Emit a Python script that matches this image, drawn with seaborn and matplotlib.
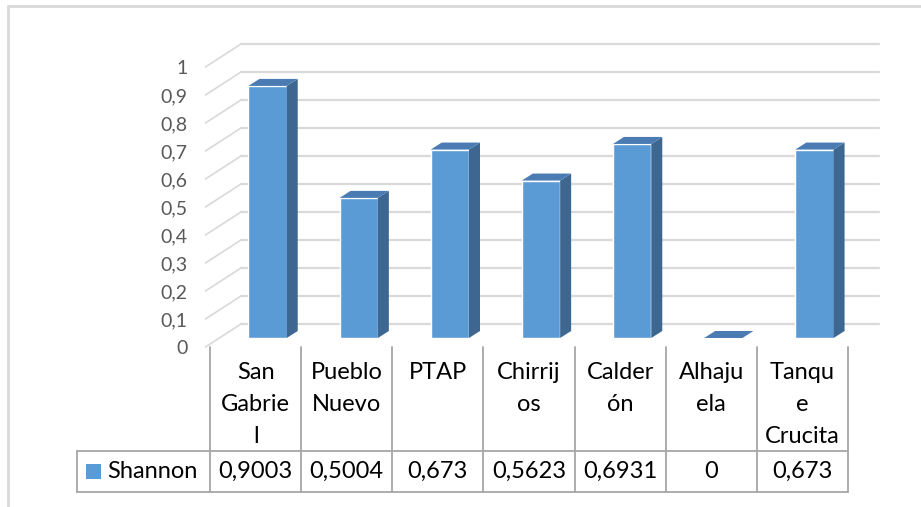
import matplotlib.pyplot as plt
import seaborn as sns
import numpy as np
import pandas as pd
from matplotlib.patches import Polygon, Rectangle

# data
sites = ['San Gabriel', 'Pueblo Nuevo', 'PTAP', 'Chirrijos', 'Calderón', 'Alhajuela', 'Tanque Crucita']
header_labels = ['San\nGabrie\nl', 'Pueblo\nNuevo', 'PTAP', 'Chirrij\nos', 'Calder\nón', 'Alhaju\nela', 'Tanqu\ne\nCrucita']
shannon = [0.9003, 0.5004, 0.673, 0.5623, 0.6931, 0, 0.673]
series_name = 'Shannon'
yticks = np.round(np.arange(0, 1.01, 0.1), 1)

sns.set_style('white')
plt.rcParams['font.family'] = ['Lato', 'DejaVu Sans']

BLUE = '#5B9BD5'
TOP = '#4A7CB3'
SIDE = '#3D6791'
GRID = '#D9D9D9'
TABLE = '#A6A6A6'

W, H = 921, 507
fig = plt.figure(figsize=(W / 100, H / 100), dpi=100)

# plot area in pixels (front plane)
L, R = 210, 848
y0_pix, y1_pix = 347, 67
ax = fig.add_axes([L / W, (H - y0_pix) / H, (R - L) / W, (y0_pix - y1_pix) / H])
n = len(sites)
colw = (R - L) / n
px_x = 1 / colw
px_y = 1 / (y0_pix - y1_pix)

df = pd.DataFrame({'site': sites, 'value': shannon})
sns.barplot(data=df, x='site', y='value', ax=ax, color=BLUE, width=0.42,
            saturation=1, zorder=3)

# back wall gridlines + left wall diagonals (fake 3D)
wdx, wdy = 31 * px_x, 23 * px_y
for v in yticks:
    ax.plot([-0.5 + wdx, n - 0.5 + wdx], [v + wdy, v + wdy], color=GRID, lw=1.6,
            zorder=1, clip_on=False)
    ax.plot([-0.55, -0.5 + wdx], [v, v + wdy], color=GRID, lw=1.2, zorder=1,
            clip_on=False)

# give the bars depth
bdx, bdy = 12 * px_x, 9 * px_y
ddx, ddy = 11 * px_x, 7 * px_y
for p in list(ax.patches):
    x0 = p.get_x() + bdx
    h = p.get_height()
    p.set_x(x0)
    p.set_y(bdy)
    p.set_clip_on(False)
    x1 = x0 + p.get_width()
    yb, yt = bdy, bdy + h
    ax.add_patch(Polygon([(x1, yb), (x1 + ddx, yb + ddy), (x1 + ddx, yt + ddy), (x1, yt)],
                         closed=True, color=SIDE, lw=0, zorder=3, clip_on=False))
    ax.add_patch(Polygon([(x0, yt), (x1, yt), (x1 + ddx, yt + ddy), (x0 + ddx, yt + ddy)],
                         closed=True, color=TOP, lw=0, zorder=3, clip_on=False))

ax.set_xlim(-0.5, n - 0.5)
ax.set_ylim(0, 1)
ax.set_yticks(yticks)
ax.set_yticklabels([f'{t:g}'.replace('.', ',') for t in yticks])
ax.set_xticks([])
ax.set_xlabel('')
ax.set_ylabel('')
ax.tick_params(axis='y', length=0, pad=16, labelsize=14, labelcolor='#595959')
sns.despine(ax=ax, left=True, bottom=True)
ax.set_facecolor('none')

# overlay for the data table and frame
ov = fig.add_axes([0, 0, 1, 1])
ov.set_xlim(0, W)
ov.set_ylim(H, 0)
ov.axis('off')
ov.patch.set_visible(False)

ov.plot([8, 8], [6, H], color=GRID, lw=2)
ov.plot([8, W], [6, 6], color=GRID, lw=2)

edges = [L + i * colw for i in range(n + 1)]
for x in edges:
    ov.plot([x, x], [347, 492], color=TABLE, lw=1.3)
ov.plot([77, 77], [451, 492], color=TABLE, lw=1.3)
for y in (451, 492):
    ov.plot([77, R], [y, y], color=TABLE, lw=1.3)

for i, lab in enumerate(header_labels):
    cx = (edges[i] + edges[i + 1]) / 2
    for j, line in enumerate(lab.split('\n')):
        ov.text(cx, 379 + 32 * j, line, ha='center', va='baseline', fontsize=17,
                color='black')
    ov.text(cx, 478, f'{shannon[i]:g}'.replace('.', ','), ha='center', va='baseline',
            fontsize=17, color='black')

ov.add_patch(Rectangle((86, 464), 15, 15, color=BLUE, lw=0))
ov.text(107, 478, series_name, ha='left', va='baseline', fontsize=17, color='black')

fig.savefig('out.png', dpi=100)
